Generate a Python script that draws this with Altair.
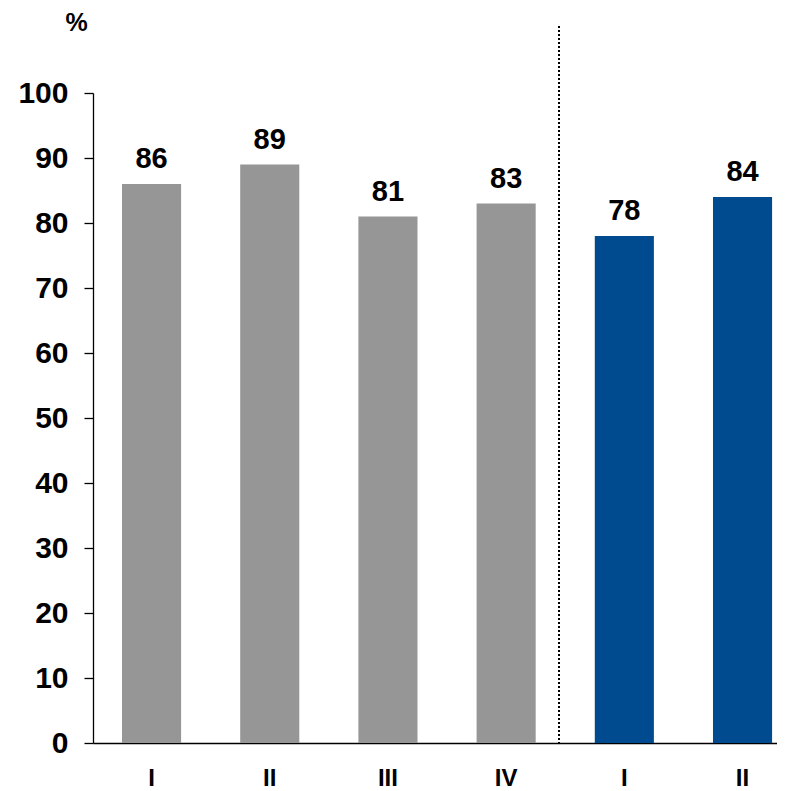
import altair as alt
import pandas as pd

periods = ["I", "II", "III", "IV", "I", "II"]
groups = ["A", "A", "A", "A", "B", "B"]
values = [86, 89, 81, 83, 78, 84]
colors_by_group = {"A": "#969696", "B": "#004A8F"}

keys = [f"{g}|{p}" for g, p in zip(groups, periods)]
df = pd.DataFrame({"key": keys, "period": periods, "group": groups, "value": values})

W, H = 684, 650

x = alt.X(
    "key:N",
    sort=keys,
    scale=alt.Scale(paddingInner=0.5, paddingOuter=0.1435, align=0.855),
    axis=alt.Axis(
        title=None,
        labelExpr="split(datum.label, '|')[1]",
        labelAngle=0,
        ticks=False,
        grid=False,
        labelFont="Liberation Sans",
        labelFontWeight="bold",
        labelFontSize=24,
        labelColor="black",
        labelPadding=23,
        domainColor="black",
        domainWidth=1.3,
    ),
)

y = alt.Y(
    "value:Q",
    scale=alt.Scale(domain=[0, 100]),
    axis=alt.Axis(
        values=list(range(0, 101, 10)),
        grid=False,
        title="%",
        titleAngle=0,
        titleAlign="center",
        titleBaseline="alphabetic",
        titleX=-17,
        titleY=-63,
        titleFont="Liberation Sans",
        titleFontWeight="bold",
        titleFontSize=25,
        titleColor="black",
        labelFont="Liberation Sans",
        labelFontWeight="bold",
        labelFontSize=30,
        labelColor="black",
        labelPadding=16,
        tickSize=9,
        tickColor="black",
        tickWidth=1.3,
        domainColor="black",
        domainWidth=1.3,
    ),
)

color = alt.Color(
    "group:N",
    scale=alt.Scale(domain=list(colors_by_group.keys()), range=list(colors_by_group.values())),
    legend=None,
)

bars = alt.Chart(df).mark_bar().encode(x=x, y=y, color=color)

labels = alt.Chart(df).mark_text(
    baseline="alphabetic",
    dy=-16,
    font="Liberation Sans",
    fontWeight="bold",
    fontSize=29,
    color="black",
).encode(
    x=alt.X("key:N", sort=keys),
    y=alt.Y("value:Q"),
    text="value:Q",
)

divider = alt.Chart(df).mark_rule(
    color="black", strokeDash=[2, 2], strokeWidth=2, clip=False
).encode(x=alt.value(466), y=alt.value(-67), y2=alt.value(H))

chart = (
    alt.layer(bars, labels, divider)
    .properties(
        width=W,
        height=H,
        background="white",
        padding={"left": 85, "top": 85, "right": 0, "bottom": 48},
        autosize=alt.AutoSizeParams(type="none"),
    )
    .configure_view(strokeWidth=0)
    .configure_axis(grid=False)
)

chart.save("out.html", embed_options={"renderer": "svg", "actions": False})
